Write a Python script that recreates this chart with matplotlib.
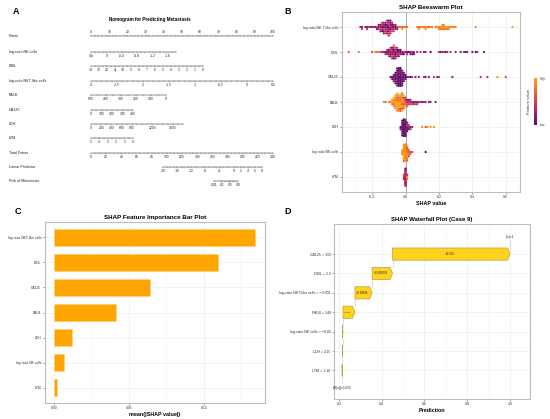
import numpy as np
import matplotlib
matplotlib.use('Agg')
import matplotlib.pyplot as plt
from matplotlib.colors import LinearSegmentedColormap
from matplotlib.colorbar import ColorbarBase
from matplotlib.patches import Polygon

plt.rcParams['font.family'] = ['Liberation Sans', 'DejaVu Sans']

# ---------------- A: nomogram ----------------
nomo_names = ['Points', 'log-ratio NK cells', 'DBIL', 'log-ratio NKT-like cells', 'PALB',
              'CA125', 'LDH', 'LYM', 'Total Points', 'Linear Predictor', 'Risk of Metastasis']
points_ticks = list(range(0, 101, 10))
nk_ticks = [0.4, 0, -0.4, -0.8, -1.2, -1.6]
dbil_ticks = list(range(14, -1, -1))
nkt_ticks = [-3, -2.5, -2, -1.5, -1, -0.5, 0, 0.5]
palb_ticks = [500, 400, 300, 200, 100, 0]
ca125_ticks = [0, 100, 200, 300, 400]
ldh_ticks = [0, 200, 400, 600, 800, 1200, 1600]
lym_ticks = [5, 4, 3, 2, 1, 0]
total_ticks = list(range(0, 241, 20))
lp_ticks = [-20, -16, -12, -8, -4, 0, 2, 4, 6, 8]
risk_ticks = [0.01, 0.1, 0.5, 0.9]
risk_minor = [0.05, 0.2, 0.3, 0.4, 0.6, 0.7, 0.8]

# value scoring 0 points, points per unit, far end of each predictor scale
pred_zero = [0.4, 14, -3, 500, 0, 0, 5]
pred_slope = [-21.15, -4.39, 28.57, -0.0824, 0.0577, 0.0281, -4.6]
pred_end = [-1.8, 0, 0.5, 0, 400, 1800, 0]
pred_minor_step = [0.1, 0.5, 0.1, 50, 50, 100, 0.5]
total_per_point = 2.4
lp_zero_total = 95.0      # total points at linear predictor -20
lp_total_slope = 4.663    # total points per unit of linear predictor
risk_shift = -1.0

# ---------------- B: beeswarm ----------------
bee_labels = ['log-ratio NK-T like cells', 'DBIL', 'CA125', 'PALB', 'LDH',
              'log-ratio NK cells', 'LYM']
nkt_shap = [-0.27, -0.26, -0.26, -0.24, -0.23, -0.23, -0.22, -0.21, -0.20, -0.19,
            -0.18, -0.17, -0.17, -0.16, -0.16, -0.16, -0.15, -0.15, -0.15, -0.15,
            -0.14, -0.14, -0.14, -0.14, -0.14, -0.13, -0.13, -0.13, -0.13, -0.13,
            -0.13, -0.12, -0.12, -0.12, -0.12, -0.12, -0.12, -0.11, -0.11, -0.11,
            -0.11, -0.11, -0.11, -0.11, -0.10, -0.10, -0.10, -0.10, -0.10, -0.10,
            -0.10, -0.10, -0.09, -0.09, -0.09, -0.09, -0.09, -0.09, -0.09, -0.08,
            -0.08, -0.08, -0.08, -0.08, -0.07, -0.07, -0.07, -0.07, -0.06, -0.06,
            -0.06, -0.05, -0.05, -0.04, -0.03, -0.02, -0.02, -0.01, 0.00, 0.01,
            0.07, 0.08, 0.08, 0.09, 0.10, 0.11, 0.12, 0.12, 0.13, 0.14,
            0.15, 0.16, 0.18, 0.19, 0.20, 0.20, 0.21, 0.21, 0.22, 0.22,
            0.22, 0.23, 0.23, 0.23, 0.24, 0.24, 0.25, 0.25, 0.26, 0.26,
            0.27, 0.28, 0.29, 0.30, 0.42, 0.64]
nkt_fv = [2, 1, 4, 2, 1, 3, 4, 2, 1, 3,
          1, 3, 0, 2, 4, 1, 3, 5, 1, 2,
          0, 2, 4, 1, 3, 1, 5, 2, 0, 3,
          2, 1, 3, 0, 4, 2, 5, 1, 3, 0,
          2, 4, 1, 3, 0, 2, 4, 1, 3, 5,
          1, 2, 3, 0, 2, 4, 1, 3, 2, 1,
          3, 0, 4, 2, 1, 3, 2, 5, 1, 4,
          2, 3, 1, 6, 7, 6, 8, 7, 6, 7,
          7, 6, 8, 7, 8, 6, 7, 8, 7, 6,
          8, 7, 7, 8, 7, 8, 8, 7, 8, 7,
          8, 8, 7, 8, 8, 7, 8, 7, 8, 8,
          7, 8, 7, 8, 8, 9]
dbil_shap = [-0.34, -0.28, -0.20, -0.18, -0.17, -0.16, -0.15, -0.14, -0.13, -0.12,
             -0.12, -0.11, -0.11, -0.11, -0.10, -0.10, -0.10, -0.10, -0.09, -0.09,
             -0.09, -0.09, -0.09, -0.08, -0.08, -0.08, -0.08, -0.08, -0.08, -0.07,
             -0.07, -0.07, -0.07, -0.07, -0.07, -0.07, -0.06, -0.06, -0.06, -0.06,
             -0.06, -0.06, -0.05, -0.05, -0.05, -0.05, -0.05, -0.04, -0.04, -0.04,
             -0.04, -0.03, -0.03, -0.03, -0.02, -0.02, -0.01, -0.01, 0.00, 0.01,
             0.01, 0.02, 0.03, 0.03, 0.04, 0.04, 0.05, 0.05, 0.07, 0.09,
             0.11, 0.12, 0.15, 0.20, 0.21, 0.22, 0.23, 0.24, 0.25, 0.27,
             0.30, 0.33, 0.35, 0.36, 0.37, 0.40, 0.42, 0.43, 0.47]
dbil_fv = [6, 7, 5, 7, 6, 8, 5, 3, 2, 1,
           3, 0, 2, 4, 1, 3, 0, 5, 2, 1,
           3, 0, 4, 2, 1, 3, 5, 0, 2, 1,
           3, 0, 2, 4, 1, 5, 2, 0, 3, 1,
           4, 2, 1, 3, 0, 2, 4, 1, 3, 0,
           2, 1, 3, 0, 2, 1, 3, 0, 2, 1,
           3, 0, 2, 1, 3, 2, 1, 0, 2, 3,
           1, 2, 0, 3, 1, 2, 4, 1, 2, 3,
           2, 1, 3, 0, 2, 1, 0, 2, 1]
ca125_shap = [-0.09, -0.08, -0.08, -0.07, -0.07, -0.07, -0.07, -0.06, -0.06, -0.06,
              -0.06, -0.06, -0.06, -0.05, -0.05, -0.05, -0.05, -0.05, -0.05, -0.05,
              -0.05, -0.05, -0.04, -0.04, -0.04, -0.04, -0.04, -0.04, -0.04, -0.04,
              -0.04, -0.04, -0.04, -0.03, -0.03, -0.03, -0.03, -0.03, -0.03, -0.03,
              -0.03, -0.03, -0.03, -0.03, -0.02, -0.02, -0.02, -0.02, -0.02, -0.02,
              -0.02, -0.02, -0.01, -0.01, -0.01, -0.01, -0.01, 0.00, 0.00, 0.00,
              0.01, 0.02, 0.03, 0.04, 0.06, 0.08, 0.11, 0.12, 0.14, 0.17,
              0.19, 0.20, 0.28, 0.45, 0.49, 0.55, 0.60]
ca125_fv = [1, 0, 1, 0, 1, 0, 0, 1, 0, 0,
            1, 0, 0, 0, 1, 0, 0, 1, 0, 0,
            1, 0, 0, 0, 1, 0, 0, 0, 1, 0,
            0, 1, 0, 0, 0, 1, 0, 0, 0, 1,
            0, 0, 1, 0, 0, 0, 1, 0, 0, 0,
            1, 0, 0, 1, 0, 0, 1, 0, 1, 0,
            1, 2, 0, 3, 1, 2, 3, 1, 2, 4,
            2, 3, 2, 4, 3, 8, 5]
palb_shap = [-0.13, -0.12, -0.10, -0.09, -0.08, -0.08, -0.08, -0.07, -0.07, -0.07,
             -0.07, -0.07, -0.06, -0.06, -0.06, -0.06, -0.06, -0.06, -0.06, -0.05,
             -0.05, -0.05, -0.05, -0.05, -0.05, -0.05, -0.05, -0.05, -0.04, -0.04,
             -0.04, -0.04, -0.04, -0.04, -0.04, -0.04, -0.04, -0.04, -0.03, -0.03,
             -0.03, -0.03, -0.03, -0.03, -0.03, -0.03, -0.03, -0.03, -0.02, -0.02,
             -0.02, -0.02, -0.02, -0.02, -0.02, -0.02, -0.02, -0.01, -0.01, -0.01,
             -0.01, -0.01, -0.01, -0.01, 0.00, 0.00, 0.00, 0.00, 0.00, 0.01,
             0.01, 0.01, 0.01, 0.02, 0.02, 0.02, 0.03, 0.03, 0.03, 0.04,
             0.04, 0.05, 0.05, 0.06, 0.06, 0.07, 0.07, 0.08, 0.09, 0.10,
             0.11, 0.12, 0.14, 0.15, 0.18]
palb_fv = [8, 6, 8, 7, 9, 7, 8, 8, 6, 9,
           7, 8, 9, 8, 6, 8, 9, 7, 8, 8,
           9, 7, 8, 6, 9, 8, 7, 9, 8, 9,
           7, 8, 6, 9, 8, 7, 9, 8, 8, 9,
           7, 8, 6, 9, 8, 5, 9, 7, 8, 6,
           9, 8, 7, 5, 8, 9, 6, 8, 5, 7,
           8, 4, 6, 9, 5, 7, 3, 8, 4, 3,
           5, 2, 6, 3, 4, 1, 2, 5, 3, 2,
           4, 1, 3, 2, 5, 1, 3, 2, 4, 1,
           3, 2, 1, 3, 2]
ldh_shap = [-0.03, -0.03, -0.02, -0.02, -0.02, -0.02, -0.02, -0.02, -0.02, -0.02,
            -0.01, -0.01, -0.01, -0.01, -0.01, -0.01, -0.01, -0.01, -0.01, -0.01,
            -0.01, -0.01, -0.01, -0.01, 0.00, 0.00, 0.00, 0.00, 0.00, 0.00,
            0.00, 0.00, 0.00, 0.00, 0.01, 0.01, 0.01, 0.01, 0.01, 0.02,
            0.02, 0.02, 0.03, 0.03, 0.04, 0.10, 0.12, 0.13, 0.15, 0.17]
ldh_fv = [0, 1, 0, 0, 1, 0, 0, 1, 0, 0,
          0, 1, 0, 0, 0, 1, 0, 0, 2, 0,
          0, 1, 0, 0, 0, 1, 0, 0, 0, 1,
          0, 0, 2, 0, 1, 0, 3, 0, 1, 2,
          0, 4, 1, 3, 2, 8, 6, 7, 8, 8]
nk_shap = [-0.02, -0.02, -0.02, -0.01, -0.01, -0.01, -0.01, -0.01, -0.01, -0.01,
           -0.01, -0.01, -0.01, 0.00, 0.00, 0.00, 0.00, 0.00, 0.00, 0.00,
           0.00, 0.00, 0.00, 0.00, 0.00, 0.00, 0.00, 0.01, 0.01, 0.01,
           0.01, 0.01, 0.01, 0.01, 0.01, 0.02, 0.02, 0.02, 0.02, 0.03,
           0.03, 0.04, 0.12]
nk_fv = [8, 7, 9, 8, 9, 7, 8, 9, 8, 7,
         9, 8, 6, 8, 9, 7, 8, 9, 8, 7,
         9, 8, 6, 8, 9, 7, 8, 7, 8, 6,
         8, 5, 7, 9, 6, 5, 7, 6, 4, 5,
         6, 5, 0]
lym_shap = [-0.01, -0.01, -0.01, 0.00, 0.00, 0.00, 0.00, 0.00, 0.00, 0.00,
            0.00, 0.00, 0.00, 0.00, 0.00, 0.00, 0.00, 0.00, 0.00, 0.00,
            0.00, 0.00, 0.00, 0.00, 0.00, 0.00, 0.00, 0.00, 0.00, 0.00,
            0.00, 0.00, 0.00, 0.00, 0.00, 0.00, 0.00, 0.01, 0.01, 0.01]
lym_fv = [3, 2, 4, 2, 3, 1, 4, 2, 3, 5,
          2, 4, 1, 3, 2, 5, 3, 2, 4, 1,
          3, 2, 4, 8, 2, 3, 1, 4, 2, 3,
          2, 4, 3, 1, 3, 2, 4, 8, 7, 3]

# ---------------- C: mean |SHAP| ----------------
imp_labels = ['log-ratio NKT-like cells', 'DBIL', 'CA125', 'PALB', 'LDH',
              'log-ratio NK cells', 'LYM']
imp_values = [0.134, 0.1095, 0.064, 0.0415, 0.012, 0.0067, 0.0022]

# ---------------- D: waterfall ----------------
wf_labels = ['CA125 = 315', 'DBIL = 2.3', 'log-ratio NKT-like cells = \u22120.901', 'PALB = 148',
             'log-ratio NK cells = \u22120.92', 'LDH = 215', 'LYM = 1.18']
wf_values = [0.55, 0.09559, 0.0804, 0.056, 0.002, 0.001, 0.001]
wf_text = ['+0.55', '+0.09559', '+0.0804', '+0.056', '', '', '']
base_value = 0.215
f_value = 1

W, H = 550, 419


def box(l, t, r, b):
    return [l / W, 1 - b / H, (r - l) / W, (b - t) / H]


def gg(ax, labelsize=2.4):
    for s in ax.spines.values():
        s.set_color('#BDBDBD')
        s.set_linewidth(0.8)
    ax.tick_params(length=1.5, width=0.4, color='#555555', labelsize=labelsize,
                   pad=1, labelcolor='#333333')
    ax.tick_params(which='minor', length=0)
    ax.set_axisbelow(True)
    ax.grid(which='major', color='#EBEBEB', lw=0.45)
    ax.grid(which='minor', color='#F4F4F4', lw=0.35)


fig = plt.figure(figsize=(5.5, 4.19), dpi=100)

# ---- panel A ----
px0, ppp = 91, 1.82
axA = fig.add_axes(box(0, 0, 280, 205))
axA.set_xlim(-px0 / ppp, (280 - px0) / ppp)
axA.set_ylim(205, 0)
axA.axis('off')
row_y = [36, 52, 66, 81, 95, 110, 124, 138, 153, 167, 181]


def nomo_axis(y, major_x, major_txt, minor_x, above=False):
    allx = list(major_x) + list(minor_x)
    axA.plot([min(allx), max(allx)], [y, y], color='#222222', lw=0.35)
    d = -1 if above else 1
    for x in major_x:
        axA.plot([x, x], [y, y + d * 1.3], color='#222222', lw=0.3)
    for x in minor_x:
        axA.plot([x, x], [y, y + d * 0.8], color='#222222', lw=0.25)
    for x, t in zip(major_x, major_txt):
        axA.text(x, y + d * 1.7, t, ha='center', va='bottom' if above else 'top',
                 fontsize=2.4, color='#222222')


def fmt(v):
    return '{:g}'.format(v)


for name, y in zip(nomo_names, row_y):
    axA.text(-45, y, name, fontsize=2.7, va='center', ha='left', color='#222222')

nomo_axis(row_y[0], points_ticks, [fmt(v) for v in points_ticks],
          [v for v in np.arange(0, 100.1, 2) if v % 10], above=True)

pred_ticks = [nk_ticks, dbil_ticks, nkt_ticks, palb_ticks, ca125_ticks, ldh_ticks, lym_ticks]
for i, ticks in enumerate(pred_ticks):
    z, sl, end, st = pred_zero[i], pred_slope[i], pred_end[i], pred_minor_step[i]
    lo, hi = min(z, end), max(z, end)
    minor_vals = [v for v in np.arange(lo, hi + st / 2, st)
                  if not any(abs(v - t) < 1e-9 for t in ticks)]
    nomo_axis(row_y[i + 1], [(v - z) * sl for v in ticks], [fmt(v) for v in ticks],
              [(v - z) * sl for v in minor_vals])

nomo_axis(row_y[8], [v / total_per_point for v in total_ticks], [fmt(v) for v in total_ticks],
          [v / total_per_point for v in np.arange(0, 240.1, 5) if v % 20])


def lp_to_x(lp):
    return (lp_zero_total + (lp + 20) * lp_total_slope) / total_per_point


lp_minor = [v for v in np.arange(-20, 8.6, 1) if v not in lp_ticks]
nomo_axis(row_y[9], [lp_to_x(v) for v in lp_ticks], [fmt(v) for v in lp_ticks],
          [lp_to_x(v) for v in lp_minor])


def risk_to_x(p):
    return lp_to_x(np.log(p / (1 - p)) + risk_shift)


nomo_axis(row_y[10], [risk_to_x(p) for p in risk_ticks], [fmt(p) for p in risk_ticks],
          [risk_to_x(p) for p in risk_minor])

axA.text((150 - px0) / ppp, 20, 'Nomogram for Predicting Metastasis', fontsize=3.3,
         fontweight='bold', ha='center', va='center')

# ---- panel B ----
cmap = LinearSegmentedColormap.from_list('fv', ['#5E0C6C', '#B7276A', '#EE5A3A', '#FFAA00'])
axB = fig.add_axes(box(342, 12, 520, 192))
gg(axB, 2.5)
bee_shap = [nkt_shap, dbil_shap, ca125_shap, palb_shap, ldh_shap, nk_shap, lym_shap]
bee_fv = [nkt_fv, dbil_fv, ca125_fv, palb_fv, ldh_fv, nk_fv, lym_fv]
for row, (sv, fv) in enumerate(zip(bee_shap, bee_fv)):
    sv = np.asarray(sv, float)
    fv = np.asarray(fv, float) / 9.0
    keys = np.round(sv / 0.01).astype(int)
    yoff = np.zeros(len(sv))
    for k in np.unique(keys):
        idx = np.where(keys == k)[0]
        n = len(idx)
        r = np.arange(n)
        lev = (r + 1) // 2
        step = min(0.085, 0.36 / max(lev.max(), 1))
        yoff[idx] = lev * np.where(r % 2 == 1, 1, -1) * step
    axB.scatter(sv, row + yoff, c=fv, cmap=cmap, vmin=0, vmax=1, s=2.6, lw=0, zorder=3)
axB.axvline(0, color='#A0A0A0', lw=0.6, zorder=2)
axB.set_xlim(-0.38, 0.685)
axB.set_ylim(6.6, -0.6)
axB.set_yticks(range(7))
axB.set_yticklabels(bee_labels)
axB.set_xticks([-0.2, 0.0, 0.2, 0.4, 0.6])
axB.set_xticklabels(['-0.2', '0.0', '0.2', '0.4', '0.6'])
axB.set_xticks([-0.3, -0.1, 0.1, 0.3, 0.5], minor=True)
axB.set_xlabel('SHAP value', fontsize=3.9, fontweight='bold', labelpad=1)
axB.set_title('SHAP Beeswarm Plot', fontsize=4.5, fontweight='bold', pad=2.5)

cax = fig.add_axes(box(534, 78, 537, 125))
cb = ColorbarBase(cax, cmap=cmap, orientation='vertical')
cb.outline.set_visible(False)
cb.set_ticks([])
fig.text(540 / W, 1 - 79 / H, 'High', fontsize=2.2, va='center', ha='left', color='#333333')
fig.text(540 / W, 1 - 125 / H, 'Low', fontsize=2.2, va='center', ha='left', color='#333333')
fig.text(529 / W, 1 - 101 / H, 'Feature value', fontsize=3.0, va='center', ha='center',
         rotation=90, color='#333333')

# ---- panel C ----
axC = fig.add_axes(box(45, 222, 265, 403))
gg(axC, 2.4)
axC.barh(range(len(imp_values)), imp_values, height=0.67, color='#FFA500',
         edgecolor='#FFD27A', lw=0.5, zorder=3)
axC.set_xlim(-0.006, 0.1407)
axC.set_ylim(6.6, -0.6)
axC.set_yticks(range(7))
axC.set_yticklabels(imp_labels)
axC.set_xticks([0, 0.05, 0.10])
axC.set_xticklabels(['0.00', '0.05', '0.10'])
axC.set_xticks([0.025, 0.075, 0.125], minor=True)
axC.set_xlabel('mean(|SHAP value|)', fontsize=3.9, fontweight='bold', labelpad=1)
axC.set_title('SHAP Feature Importance Bar Plot', fontsize=4.5, fontweight='bold', pad=2.5)

# ---- panel D ----
axD = fig.add_axes(box(334, 224, 530, 399))
gg(axD, 2.6)
axD.set_xlim(0.177, 1.094)
axD.set_ylim(7.47, -1.55)
bh = 0.63
start = base_value
ends = {}
for i in range(len(wf_values) - 1, -1, -1):
    a, b = start, start + wf_values[i]
    tip = min(0.012, b - a)
    poly = Polygon([(a, i - bh / 2), (b - tip, i - bh / 2), (b, i), (b - tip, i + bh / 2),
                    (a, i + bh / 2)], closed=True, facecolor='#FFD21F',
                   edgecolor='#B8A040', lw=0.5, zorder=3)
    axD.add_patch(poly)
    if wf_text[i]:
        fs = 2.8 if wf_values[i] > 0.3 else (2.4 if wf_values[i] > 0.07 else 1.6)
        axD.text((a + b - tip) / 2, i, wf_text[i], ha='center', va='center',
                 fontsize=fs, color='#222222', zorder=4)
    ends[i] = (a, b)
    start = b
n = len(wf_values)
axD.plot([base_value] * 2, [n - 1 + bh / 2, n - 0.35], ls=':', color='#888888', lw=0.5, zorder=2)
for i in range(n - 1, 0, -1):
    x = ends[i][1]
    axD.plot([x, x], [i - bh / 2, i - 1 + bh / 2], ls=':', color='#888888', lw=0.5, zorder=2)
axD.plot([ends[0][1]] * 2, [-bh / 2, -0.72], ls=':', color='#888888', lw=0.5, zorder=2)
axD.text(base_value, n - 0.12, 'E[f(x)]=%g' % base_value, ha='center', va='center',
         fontsize=2.3, color='#222222')
axD.text(ends[0][1], -0.88, 'f(x)=%g' % f_value, ha='center', va='center',
         fontsize=2.3, color='#222222')
axD.set_yticks(range(n))
axD.set_yticklabels(wf_labels)
axD.set_xticks([0.2, 0.4, 0.6, 0.8, 1.0])
axD.set_xticklabels(['0.2', '0.4', '0.6', '0.8', '1.0'])
axD.set_xticks([0.3, 0.5, 0.7, 0.9], minor=True)
axD.set_xlabel('Prediction', fontsize=3.9, fontweight='bold', labelpad=1)
axD.set_title('SHAP Waterfall Plot (Case 9)', fontsize=4.3, fontweight='bold', pad=2.5)

# panel letters
for letter, (x, y) in zip('ABCD', [(16, 12), (288, 11), (18, 212), (288, 212)]):
    fig.text(x / W, 1 - y / H, letter, fontsize=6.5, fontweight='bold', ha='center', va='center')

fig.savefig('out.png', dpi=100)
